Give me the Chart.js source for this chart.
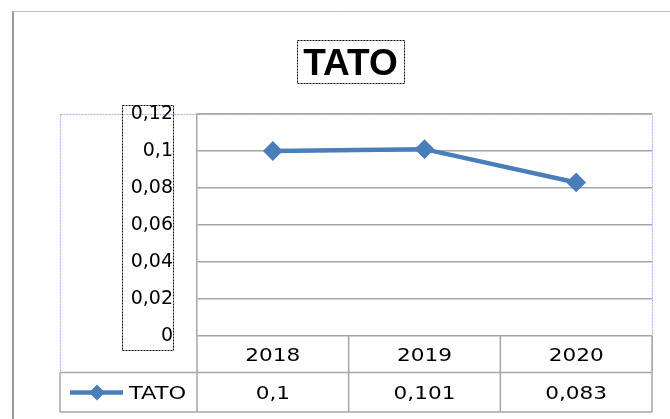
<!DOCTYPE html>
<html>
<head>
<meta charset="utf-8">
<script src="https://cdn.jsdelivr.net/npm/chart.js@4.4.1/dist/chart.umd.min.js"></script>
<style>
  html, body { margin: 0; padding: 0; background: #fff; }
  canvas { display: block; }
</style>
</head>
<body>
<canvas id="tatoChart" width="670" height="419"></canvas>
<script>
// data
const chartTitle = 'TATO';
const seriesName = 'TATO';
const categories = ['2018', '2019', '2020'];
const tatoValues = [0.1, 0.101, 0.083];
const yTickLabels = ['0', '0,02', '0,04', '0,06', '0,08', '0,1', '0,12'];

const lineBlue = '#4a7ebb';
const gridGray = '#a6a6a6';
const textFont = '18px "DejaVu Sans"';

// comma decimal like the Excel sheet
const fmt = v => String(v).replace('.', ',');

// text drawn a bit wider, the source is stretched horizontally
function wideText(ctx, str, x, y, align, sx) {
  ctx.save();
  ctx.translate(x, y);
  ctx.scale(sx, 1);
  ctx.textAlign = align;
  ctx.fillText(str, 0, 0);
  ctx.restore();
}

const dotted = (ctx, color, x, y, w, h) => {
  ctx.save();
  ctx.strokeStyle = color;
  ctx.lineWidth = 1;
  ctx.setLineDash([2, 1]);
  ctx.strokeRect(x + 0.5, y + 0.5, w, h);
  ctx.restore();
};

const decorations = {
  id: 'decorations',
  beforeDraw(chart) {
    const ctx = chart.ctx;
    ctx.save();
    ctx.fillStyle = '#fff';
    ctx.fillRect(0, 0, chart.width, chart.height);
    // outer chart frame
    ctx.strokeStyle = '#9a9a9a';
    ctx.lineWidth = 2;
    ctx.beginPath();
    ctx.moveTo(13, chart.height);
    ctx.lineTo(13, 11);
    ctx.stroke();
    ctx.strokeStyle = '#c0c0c0';
    ctx.lineWidth = 1;
    ctx.beginPath();
    ctx.moveTo(13, 11.5);
    ctx.lineTo(chart.width, 11.5);
    ctx.stroke();
    ctx.restore();
    // plot area selection outline
    dotted(ctx, '#9db5de', 60, chart.chartArea.top, chart.chartArea.right - 60, 258);
  },
  afterDraw(chart) {
    const ctx = chart.ctx;
    const x = chart.scales.x;
    const area = chart.chartArea;
    const rowMid = area.bottom + 36.5;
    const rowEnd = area.bottom + 76;

    // title
    ctx.save();
    ctx.fillStyle = '#000';
    ctx.font = 'bold 37px "Liberation Sans"';
    ctx.textAlign = 'center';
    ctx.fillText(chartTitle, 350.5, 75);
    ctx.restore();
    dotted(ctx, '#000', 297, 40, 107, 43);
    dotted(ctx, '#000', 122, 105, 51, 245);

    // data table grid
    const bounds = [area.left];
    for (let i = 0; i < categories.length - 1; i++) {
      bounds.push((x.getPixelForValue(i) + x.getPixelForValue(i + 1)) / 2);
    }
    bounds.push(area.right);

    ctx.save();
    ctx.strokeStyle = gridGray;
    ctx.lineWidth = 1.5;
    ctx.beginPath();
    bounds.forEach(b => {
      ctx.moveTo(b, area.bottom);
      ctx.lineTo(b, rowEnd);
    });
    ctx.moveTo(60, rowMid);
    ctx.lineTo(area.right, rowMid);
    ctx.moveTo(60, rowEnd);
    ctx.lineTo(area.right, rowEnd);
    ctx.moveTo(60, rowMid);
    ctx.lineTo(60, rowEnd);
    ctx.stroke();

    // table text
    ctx.fillStyle = '#000';
    ctx.font = textFont;
    categories.forEach((c, i) => {
      const cx = x.getPixelForValue(i);
      wideText(ctx, c, cx, area.bottom + 25, 'center', 1.2);
      wideText(ctx, fmt(tatoValues[i]), cx, rowMid + 26, 'center', 1.2);
    });
    wideText(ctx, seriesName, 129, rowMid + 26, 'left', 1.25);

    // legend key
    const ly = rowMid + 20;
    ctx.strokeStyle = lineBlue;
    ctx.lineWidth = 4.5;
    ctx.beginPath();
    ctx.moveTo(70, ly);
    ctx.lineTo(123, ly);
    ctx.stroke();
    ctx.fillStyle = lineBlue;
    ctx.beginPath();
    ctx.moveTo(97, ly - 8);
    ctx.lineTo(105, ly);
    ctx.lineTo(97, ly + 8);
    ctx.lineTo(89, ly);
    ctx.closePath();
    ctx.fill();
    ctx.restore();
  }
};

new Chart(document.getElementById('tatoChart'), {
  type: 'line',
  data: {
    labels: categories,
    datasets: [{
      label: seriesName,
      data: tatoValues,
      borderColor: lineBlue,
      backgroundColor: lineBlue,
      borderWidth: 4.5,
      pointStyle: 'rectRot',
      pointRadius: 8.5,
      pointBorderWidth: 2,
      tension: 0
    }]
  },
  options: {
    responsive: false,
    animation: false,
    devicePixelRatio: 1,
    layout: { padding: { left: 0, top: 114, right: 18, bottom: 83 } },
    plugins: {
      legend: { display: false },
      title: { display: false },
      tooltip: { enabled: false }
    },
    scales: {
      x: {
        display: false,
        offset: true
      },
      y: {
        min: 0,
        max: 0.12,
        afterFit: scale => { scale.width = 197; },
        ticks: {
          stepSize: 0.02,
          padding: 24,
          color: '#000',
          font: { family: 'DejaVu Sans', size: 19 },
          callback: (v, i) => yTickLabels[i]
        },
        grid: { color: gridGray, lineWidth: 1.5, drawTicks: false },
        border: { color: gridGray, width: 1.5 }
      }
    }
  },
  plugins: [decorations]
});
</script>
</body>
</html>
